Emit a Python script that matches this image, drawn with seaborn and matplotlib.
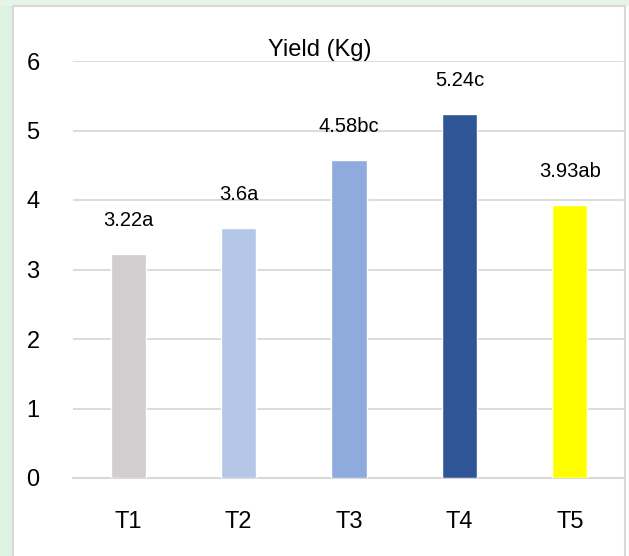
import matplotlib
matplotlib.use("Agg")
import matplotlib.pyplot as plt
from matplotlib.patches import Rectangle
import seaborn as sns
import pandas as pd

treatments = ["T1", "T2", "T3", "T4", "T5"]
yield_kg = [3.22, 3.60, 4.58, 5.24, 3.93]
letters = ["a", "a", "bc", "c", "ab"]
bar_colors = ["#D0CECE", "#B4C7E7", "#8FAADC", "#2F5597", "#FFFF00"]
y_ticks = [0, 1, 2, 3, 4, 5, 6]

sns.set_theme(style="white")
plt.rcParams["font.family"] = ["Liberation Sans", "DejaVu Sans"]

W, H = 629, 556
fig = plt.figure(figsize=(W / 100, H / 100), dpi=100)
fig.patch.set_facecolor("white")

# pale green backdrop strips around the chart card
fig.patches.append(Rectangle((0, 0), 13 / W, 1, transform=fig.transFigure,
                             facecolor="#DDF2E2", edgecolor="none", zorder=0))
fig.patches.append(Rectangle((0, 1 - 6 / H), 1, 6 / H, transform=fig.transFigure,
                             facecolor="#E6F5E6", edgecolor="none", zorder=0))
# white chart card with light grey border
fig.patches.append(Rectangle((13 / W, -0.01), (625 - 13) / W, 1 - 6 / H + 0.01,
                             transform=fig.transFigure, facecolor="white",
                             edgecolor="#D9D9D9", linewidth=1.5, zorder=1))

ax = fig.add_axes([73 / W, (H - 478) / H, (625 - 73) / W, (478 - 61) / H])
ax.set_facecolor("none")
ax.set_zorder(2)

df = pd.DataFrame({"Treatment": treatments, "Yield": yield_kg})
sns.barplot(data=df, x="Treatment", y="Yield", hue="Treatment",
            palette=bar_colors, width=0.32, legend=False, ax=ax,
            saturation=1, zorder=3)

for i, (v, l) in enumerate(zip(yield_kg, letters)):
    ax.annotate(f"{v:g}{l}", (i, v), xytext=(0, 24), textcoords="offset points",
                ha="center", va="center", fontsize=14.5, color="#000000",
                annotation_clip=False)

ax.set_xlim(-0.5, 4.5)
ax.set_ylim(0, 6)
ax.set_yticks(y_ticks)
ax.yaxis.grid(True, color="#D9D9D9", linewidth=1.3, zorder=0)
ax.set_axisbelow(True)
for s in ["left", "right", "top"]:
    ax.spines[s].set_visible(False)
ax.spines["bottom"].set_color("#D9D9D9")
ax.spines["bottom"].set_linewidth(1.5)
ax.tick_params(axis="y", length=0, pad=24, labelsize=17, colors="#000000")
ax.tick_params(axis="x", length=0, pad=24, labelsize=17, colors="#000000")
ax.set_xlabel("")
ax.set_ylabel("")

fig.text(320 / W, 1 - 50 / H, "Yield (Kg)", ha="center", va="center",
         fontsize=17, color="#000000")

fig.savefig("out.png", dpi=100)
